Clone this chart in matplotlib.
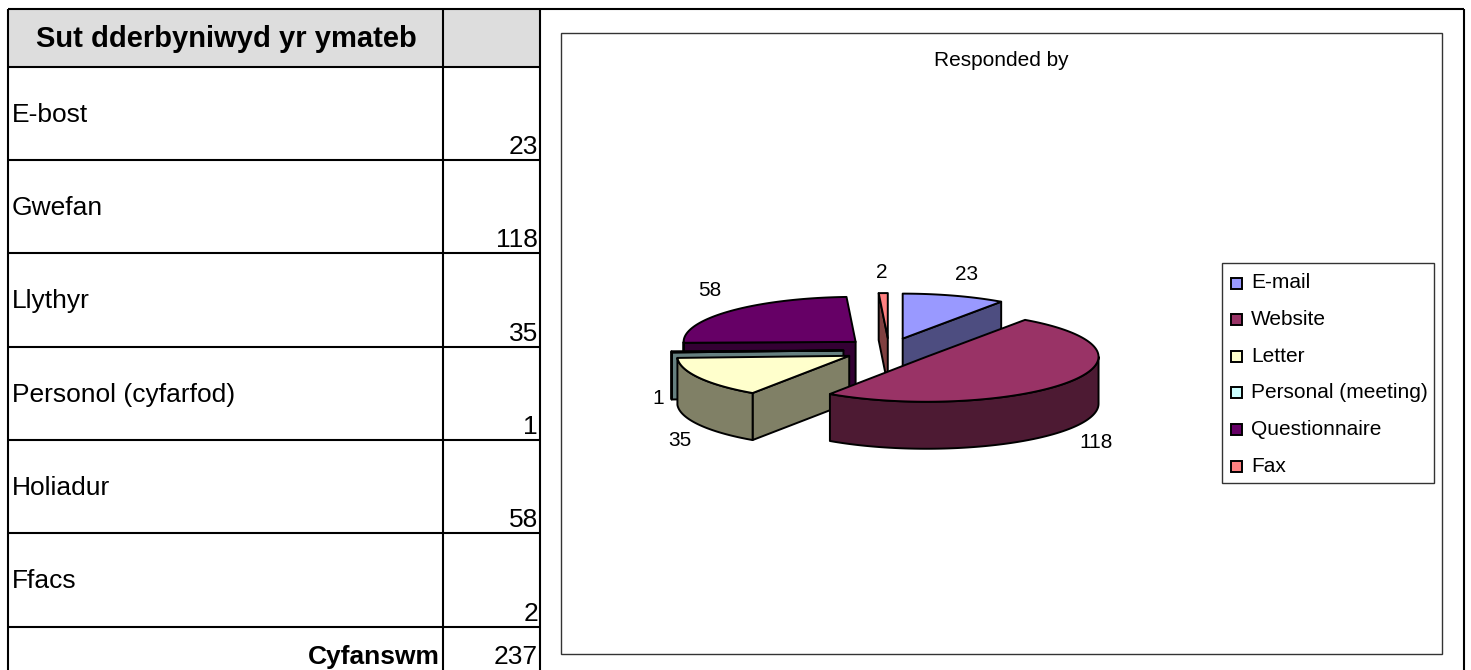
import numpy as np
import matplotlib
matplotlib.use("Agg")
import matplotlib.pyplot as plt
from matplotlib.patches import Polygon, Rectangle

plt.rcParams['font.family'] = ['Liberation Sans', 'DejaVu Sans']

# table data
table_header = "Sut dderbyniwyd yr ymateb"
row_labels = ["E-bost", "Gwefan", "Llythyr", "Personol (cyfarfod)", "Holiadur", "Ffacs"]
total_label = "Cyfanswm"
total_value = 237

# chart data
chart_title = "Responded by"
categories = ["E-mail", "Website", "Letter", "Personal (meeting)", "Questionnaire", "Fax"]
values = [23, 118, 35, 1, 58, 2]
colors = ["#9999FF", "#993366", "#FFFFCC", "#CCFFFF", "#660066", "#FF8080"]

# layout in pixels of the 1471x670 picture
row_lines = [9, 67, 160, 253, 347, 440, 533, 627]
col_lines = [8, 443, 540]
cx, cy = 889, 350
rx, ry = 172, 45
depth = 47
explode = 0.265
# draw order: back slices first
order = [5, 0, 4, 3, 2, 1]
label_pos = [(967, 274), (1096, 442), (680, 440), (658, 399), (710, 290), (882, 273)]

fig = plt.figure(figsize=(14.71, 6.7), dpi=100)
ax = fig.add_axes([0, 0, 1, 1])
ax.set_xlim(0, 1471)
ax.set_ylim(670, 0)
ax.axis("off")

# table
ax.add_patch(Rectangle((col_lines[0], row_lines[0]), col_lines[2] - col_lines[0],
                       row_lines[1] - row_lines[0], fc="#DDDDDD", ec="none"))
for y in row_lines:
    ax.plot([col_lines[0], col_lines[2]], [y, y], color="black", lw=1.5, solid_capstyle="butt")
for x in col_lines:
    ax.plot([x, x], [row_lines[0], 670], color="black", lw=1.5, solid_capstyle="butt")
ax.plot([col_lines[2], 1464], [9, 9], color="black", lw=1.5, solid_capstyle="butt")
ax.plot([1464, 1464], [9, 670], color="black", lw=1.5, solid_capstyle="butt")

ax.text(226, 39, table_header, fontsize=21, fontweight="bold", ha="center", va="center")
for i, label in enumerate(row_labels):
    top, bottom = row_lines[i + 1], row_lines[i + 2]
    ax.text(12, top + 48, label, fontsize=19, ha="left", va="center")
    ax.text(538, bottom - 6, str(values[i]), fontsize=19, ha="right", va="baseline")
ax.text(440, 664, total_label, fontsize=19, fontweight="bold", ha="right", va="baseline")
ax.text(538, 664, str(total_value), fontsize=19, ha="right", va="baseline")

# chart frame and title
ax.add_patch(Rectangle((561, 33), 881, 621, fc="white", ec="#333333", lw=1.0))
ax.text(1001, 60, chart_title, fontsize=15, ha="center", va="center")


def dark(color):
    rgb = matplotlib.colors.to_rgb(color)
    return tuple(c * 0.5 for c in rgb)


def ellipse_points(x0, y0, a1, a2):
    t = np.radians(np.linspace(a1, a2, max(int(abs(a2 - a1)), 2) + 1))
    return np.column_stack([x0 + rx * np.sin(t), y0 - ry * np.cos(t)])


# exploded 3d pie, angles clockwise from 12 o'clock
bounds = np.concatenate([[0], np.cumsum(values)]) / sum(values) * 360
for i in order:
    a1, a2 = bounds[i], bounds[i + 1]
    mid = np.radians((a1 + a2) / 2)
    x0 = cx + explode * rx * np.sin(mid)
    y0 = cy - explode * ry * np.cos(mid)
    side = dark(colors[i])
    style = dict(ec="black", lw=1.4, joinstyle="round")

    # cut faces, only those turned to the viewer
    cuts = []
    if 180 < a1 < 360:
        cuts.append(a1)
    if 0 < a2 < 180:
        cuts.append(a2)
    for a in cuts:
        p = ellipse_points(x0, y0, a, a)[0]
        ax.add_patch(Polygon([(x0, y0), p, (p[0], p[1] + depth), (x0, y0 + depth)], fc=side, **style))
    # outer wall, only the part facing the viewer
    s1, s2 = max(a1, 90), min(a2, 270)
    if s2 > s1:
        arc = ellipse_points(x0, y0, s1, s2)
        ax.add_patch(Polygon(np.vstack([arc, (arc + [0, depth])[::-1]]), fc=side, **style))
    # top
    top = np.vstack([[(x0, y0)], ellipse_points(x0, y0, a1, a2)])
    ax.add_patch(Polygon(top, fc=colors[i], **style))

for v, (x, y) in zip(values, label_pos):
    ax.text(x, y, str(v), fontsize=15, ha="center", va="center")

# legend
ax.add_patch(Rectangle((1222, 263), 212, 220, fc="white", ec="#333333", lw=1.0))
for i, name in enumerate(categories):
    y = 283 + i * 36.6
    ax.add_patch(Rectangle((1231, y - 5.5), 11, 11, fc=colors[i], ec="black", lw=1.4))
    ax.text(1251, y, name, fontsize=15, ha="left", va="center")

fig.savefig("out.png", dpi=100)
